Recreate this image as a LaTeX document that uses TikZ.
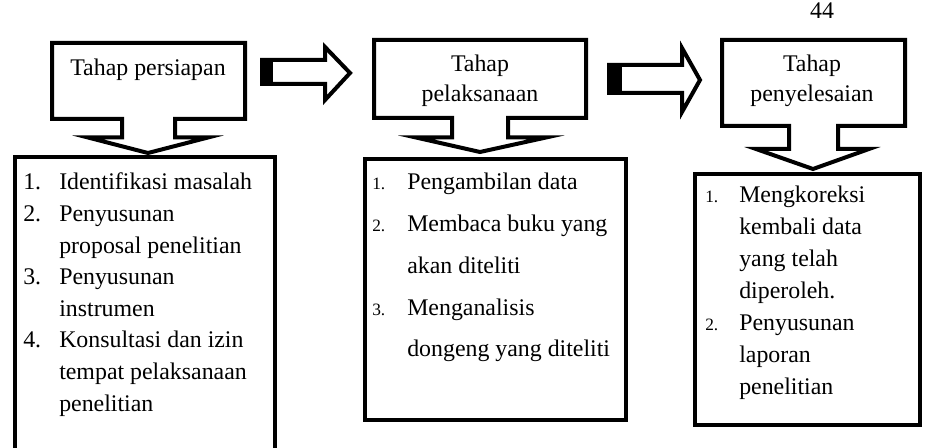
\documentclass[tikz,border=0pt]{standalone}
\usepackage{fontspec}
\setmainfont{Liberation Serif}
\usetikzlibrary{positioning}

\newcommand{\numsmall}[1]{{\fontsize{13}{15}\selectfont #1}}

\begin{document}
\begin{tikzpicture}[x=0.75pt,y=-0.75pt,font=\fontsize{17.9}{22.5}\selectfont]
    \tikzset{
        stageLine/.style={draw,line width=3pt,miter limit=10},
        stageLabel/.style={inner sep=0pt,anchor=base},
        stepList/.style={inner sep=0pt,anchor=base west}
    }
    \useasboundingbox (0,0) rectangle (927,448);
    % page number
    \node[stageLabel] (pagenum) at (822,19) {44};
    % Tahap persiapan
    \draw[stageLine] (52,43) -- (245,43) -- (245,119) -- (175,119) -- (175,137.5)
        -- (208,137.5) -- (148,153) -- (88,137.5) -- (122,137.5) -- (122,119)
        -- (52,119) -- cycle;
    \node[stageLabel] (persiapan) at (148,76) {Tahap persiapan};
    \draw[stageLine] (15,460) -- (15,157) -- (275,157) -- (275,460);
    \node[stepList] (listpersiapan) at (23,190) {\fontsize{17.9}{23.7}\selectfont
        \begin{tabular}[t]{@{}p{27pt}@{}l@{}}
            1. & Identifikasi masalah\\
            2. & Penyusunan\\
               & proposal penelitian\\
            3. & Penyusunan\\
               & instrumen\\
            4. & Konsultasi dan izin\\
               & tempat pelaksanaan\\
               & penelitian
        \end{tabular}};
    % arrow 1
    \draw[stageLine] (262,60) -- (325,60) -- (325,47) -- (350,73) -- (325,100)
        -- (325,84) -- (262,84) -- cycle;
    \fill (260,58) rectangle (273,86);
    % Tahap pelaksanaan
    \draw[stageLine] (374,40) -- (586,40) -- (586,118) -- (508,118) -- (508,137.5)
        -- (546,137.5) -- (480,152) -- (416,137.5) -- (452,137.5) -- (452,118)
        -- (374,118) -- cycle;
    \node[stageLabel] (pelaksanaan) at (480,72) {\begin{tabular}[t]{@{}c@{}}Tahap\\pelaksanaan\end{tabular}};
    \draw[stageLine] (365,159) rectangle (626,420);
    \node[stepList] (listpelaksanaan) at (372,190) {\fontsize{17.9}{31.3}\selectfont
        \begin{tabular}[t]{@{}p{26.25pt}@{}l@{}}
            \numsmall{1.} & Pengambilan data\\
            \numsmall{2.} & Membaca buku yang\\
                          & akan diteliti\\
            \numsmall{3.} & Menganalisis\\
                          & dongeng yang diteliti
        \end{tabular}};
    % arrow 2
    \draw[stageLine] (609,65) -- (682,65) -- (682,48) -- (700,80) -- (682,112)
        -- (682,93) -- (609,93) -- cycle;
    \fill (607,63) rectangle (622,95);
    % Tahap penyelesaian
    \draw[stageLine] (722,40) -- (905,40) -- (905,126) -- (838,126) -- (838,149)
        -- (869,149) -- (813,169) -- (756,149) -- (789,149) -- (789,126)
        -- (722,126) -- cycle;
    \node[stageLabel] (penyelesaian) at (812,72) {\begin{tabular}[t]{@{}c@{}}Tahap\\penyelesaian\end{tabular}};
    \draw[stageLine] (695,174) rectangle (920,425);
    \node[stepList] (listpenyelesaian) at (705,203) {\fontsize{17.9}{24}\selectfont
        \begin{tabular}[t]{@{}p{25.5pt}@{}l@{}}
            \numsmall{1.} & Mengkoreksi\\
                          & kembali data\\
                          & yang telah\\
                          & diperoleh.\\
            \numsmall{2.} & Penyusunan\\
                          & laporan\\
                          & penelitian
        \end{tabular}};
\end{tikzpicture}
\end{document}
